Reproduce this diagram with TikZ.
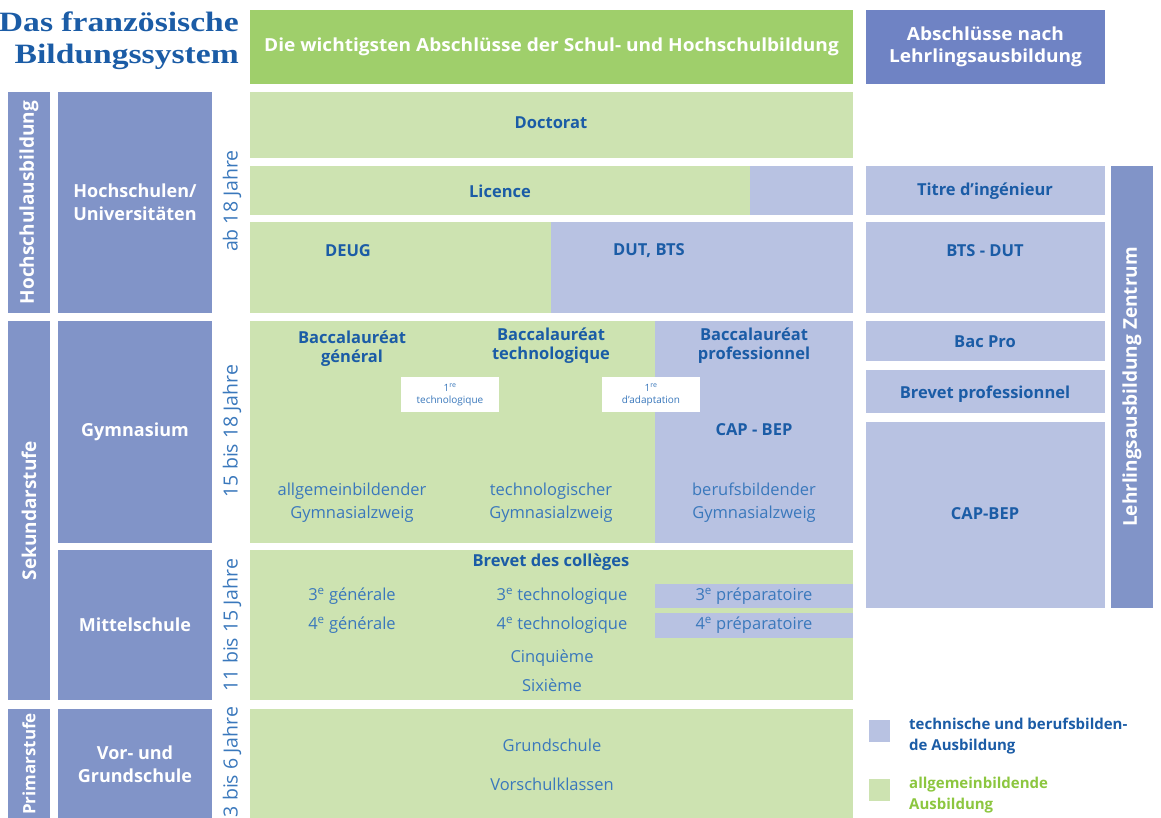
\documentclass[tikz,border=0pt]{standalone}
\usepackage{fontspec}
\setmainfont{Open Sans}
\newfontfamily\titlefont[FakeStretch=1.2]{Liberation Serif}
\newfontfamily\widefont[FakeStretch=1.06]{Open Sans}
\definecolor{hgreen}{HTML}{9FCF6B}
\definecolor{lgreen}{HTML}{CDE3B1}
\definecolor{lblue}{HTML}{B8C2E2}
\definecolor{mblue}{HTML}{8194C8}
\definecolor{hblue}{HTML}{6F83C4}
\definecolor{dblue}{HTML}{1B5CA6}
\definecolor{tblue}{HTML}{3A78BC}
\definecolor{leggreen}{HTML}{8CC63F}
\begin{document}
\begin{tikzpicture}[x=1pt,y=-1pt,
  rbox/.style={draw=none,inner sep=0pt,outer sep=0pt,anchor=north west},
  bt/.style={text=dblue,font=\fontsize{16.5}{19}\selectfont\bfseries,align=center,inner sep=0pt},
  nt/.style={text=tblue,font=\fontsize{16.5}{23}\selectfont,align=center,inner sep=0pt},
  wt/.style={text=white,font=\fontsize{18}{23}\selectfont\bfseries,align=center,inner sep=0pt},
  vt/.style={text=white,font=\fontsize{19}{23}\selectfont\bfseries,rotate=90,inner sep=0pt},
  age/.style={text=tblue,font=\fontsize{19.5}{20}\selectfont,rotate=90,inner sep=0pt},
  small/.style={text=tblue,font=\fontsize{10}{12}\selectfont,align=center,inner sep=0pt}
]
\useasboundingbox (0,0) rectangle (1161,818);
% title
\node[text=dblue,font=\titlefont\fontsize{28}{32}\selectfont\bfseries,align=right,anchor=east,inner sep=0pt] (title) at (239,41) {Das französische\\Bildungssystem};
% headers
\node[rbox,fill=hgreen,minimum width=603pt,minimum height=74pt] (hg) at (250,10) {};
\node[wt,font=\widefont\fontsize{18}{22}\selectfont\bfseries] at (hg.center) {Die wichtigsten Abschlüsse der Schul- und Hochschulbildung};
\node[rbox,fill=hblue,minimum width=239pt,minimum height=74pt] (hb) at (866,10) {};
\node[wt,font=\widefont\fontsize{18}{22}\selectfont\bfseries] at (hb.center) {Abschlüsse nach\\Lehrlingsausbildung};
% left columns
\node[rbox,fill=mblue,minimum width=42pt,minimum height=221pt] (l1) at (8,92) {};
\node[vt] at (l1.center) {Hochschulausbildung};
\node[rbox,fill=mblue,minimum width=154pt,minimum height=221pt] (l2) at (58,92) {};
\node[wt] at (l2.center) {Hochschulen/\\Universitäten};
\node[rbox,fill=mblue,minimum width=42pt,minimum height=379pt] (s1) at (8,321) {};
\node[vt] at (s1.center) {Sekundarstufe};
\node[rbox,fill=mblue,minimum width=154pt,minimum height=222pt] (g1) at (58,321) {};
\node[wt] at (g1.center) {Gymnasium};
\node[rbox,fill=mblue,minimum width=154pt,minimum height=150pt] (m1) at (58,550) {};
\node[wt] at (m1.center) {Mittelschule};
\node[rbox,fill=mblue,minimum width=42pt,minimum height=112pt] (p1) at (8,709) {};
\node[vt,font=\fontsize{17}{20}\selectfont\bfseries] at (29,764) {Primarstufe};
\node[rbox,fill=mblue,minimum width=154pt,minimum height=112pt] (p2) at (58,709) {};
\node[wt] at (135,764) {Vor- und\\Grundschule};
% ages
\node[age] (a1) at (232,201) {ab 18 Jahre};
\node[age] (a2) at (232,431) {15 bis 18 Jahre};
\node[age] (a3) at (232,625) {11 bis 15 Jahre};
\node[age] (a4) at (232,762) {3 bis 6 Jahre};
% main: higher education
\node[rbox,fill=lgreen,minimum width=603pt,minimum height=66pt] (doc) at (250,92) {};
\node[bt] at (551,123) {Doctorat};
\node[rbox,fill=lgreen,minimum width=500pt,minimum height=49pt] (lic) at (250,166) {};
\node[rbox,fill=lblue,minimum width=103pt,minimum height=49pt] (licb) at (750,166) {};
\node[bt] at (500,191) {Licence};
\node[rbox,fill=lgreen,minimum width=301pt,minimum height=91pt] (deug) at (250,222) {};
\node[rbox,fill=lblue,minimum width=302pt,minimum height=91pt] (dut) at (551,222) {};
\node[bt] at (348,251) {DEUG};
\node[bt] at (649,251) {DUT, BTS};
% Gymnasium row
\node[rbox,fill=lgreen,minimum width=405pt,minimum height=222pt] (gymg) at (250,321) {};
\node[rbox,fill=lblue,minimum width=198pt,minimum height=222pt] (gymb) at (655,321) {};
\node[bt] at (352,349) {Baccalauréat\\général};
\node[bt] at (551,346) {Baccalauréat\\technologique};
\node[bt] at (754,346) {Baccalauréat\\professionnel};
\node[rbox,fill=white,minimum width=98pt,minimum height=35pt] (t1) at (401,377) {};
\node[small] at (t1.center) {1\textsuperscript{re}\\technologique};
\node[rbox,fill=white,minimum width=98pt,minimum height=35pt] (t2) at (602,377) {};
\node[small] at (t2.center) {1\textsuperscript{re}\\d'adaptation};
\node[bt] at (754,430) {CAP - BEP};
\node[nt] at (352,503) {allgemeinbildender\\Gymnasialzweig};
\node[nt] at (551,503) {technologischer\\Gymnasialzweig};
\node[nt] at (754,503) {berufsbildender\\Gymnasialzweig};
% Mittelschule row
\node[rbox,fill=lgreen,minimum width=603pt,minimum height=150pt] (mit) at (250,550) {};
\node[bt] at (551,562) {Brevet des collèges};
\node[rbox,fill=lblue,minimum width=198pt,minimum height=24pt] (p3) at (655,584) {};
\node[rbox,fill=lblue,minimum width=198pt,minimum height=25pt] (p4) at (655,613) {};
\node[nt] at (352,596) {3\textsuperscript{e} générale};
\node[nt] at (352,625) {4\textsuperscript{e} générale};
\node[nt] at (562,596) {3\textsuperscript{e} technologique};
\node[nt] at (562,625) {4\textsuperscript{e} technologique};
\node[nt] at (754,596) {3\textsuperscript{e} préparatoire};
\node[nt] at (754,625) {4\textsuperscript{e} préparatoire};
\node[nt] at (552,658) {Cinquième};
\node[nt] at (552,685) {Sixième};
% primary
\node[rbox,fill=lgreen,minimum width=603pt,minimum height=112pt] (prim) at (250,709) {};
\node[nt] at (552,745) {Grundschule};
\node[nt] at (552,784) {Vorschulklassen};
% right column
\node[rbox,fill=lblue,minimum width=239pt,minimum height=49pt] (ing) at (866,166) {};
\node[bt] at (985,191) {Titre d’ingénieur};
\node[rbox,fill=lblue,minimum width=239pt,minimum height=91pt] (bts) at (866,222) {};
\node[bt] at (985,251) {BTS - DUT};
\node[rbox,fill=lblue,minimum width=239pt,minimum height=40pt] (bac) at (866,321) {};
\node[bt] at (985,342) {Bac Pro};
\node[rbox,fill=lblue,minimum width=239pt,minimum height=43pt] (bp) at (866,370) {};
\node[bt] at (985,394) {Brevet professionnel};
\node[rbox,fill=lblue,minimum width=239pt,minimum height=186pt] (cap) at (866,422) {};
\node[bt] at (985,514) {CAP-BEP};
\node[rbox,fill=mblue,minimum width=42pt,minimum height=442pt] (lz) at (1111,166) {};
\node[vt] at (1132,387) {Lehrlingsausbildung Zentrum};
% legend
\node[rbox,fill=lblue,minimum width=21pt,minimum height=22pt] (lg1) at (869,720) {};
\node[bt,align=left,anchor=north west,font=\fontsize{15}{21}\selectfont\bfseries] at (909,718) {technische und berufsbilden-\\de Ausbildung};
\node[rbox,fill=lgreen,minimum width=21pt,minimum height=22pt] (lg2) at (869,779) {};
\node[bt,text=leggreen,align=left,anchor=north west,font=\fontsize{15}{21}\selectfont\bfseries] at (909,777) {allgemeinbildende\\Ausbildung};
\end{tikzpicture}
\end{document}
